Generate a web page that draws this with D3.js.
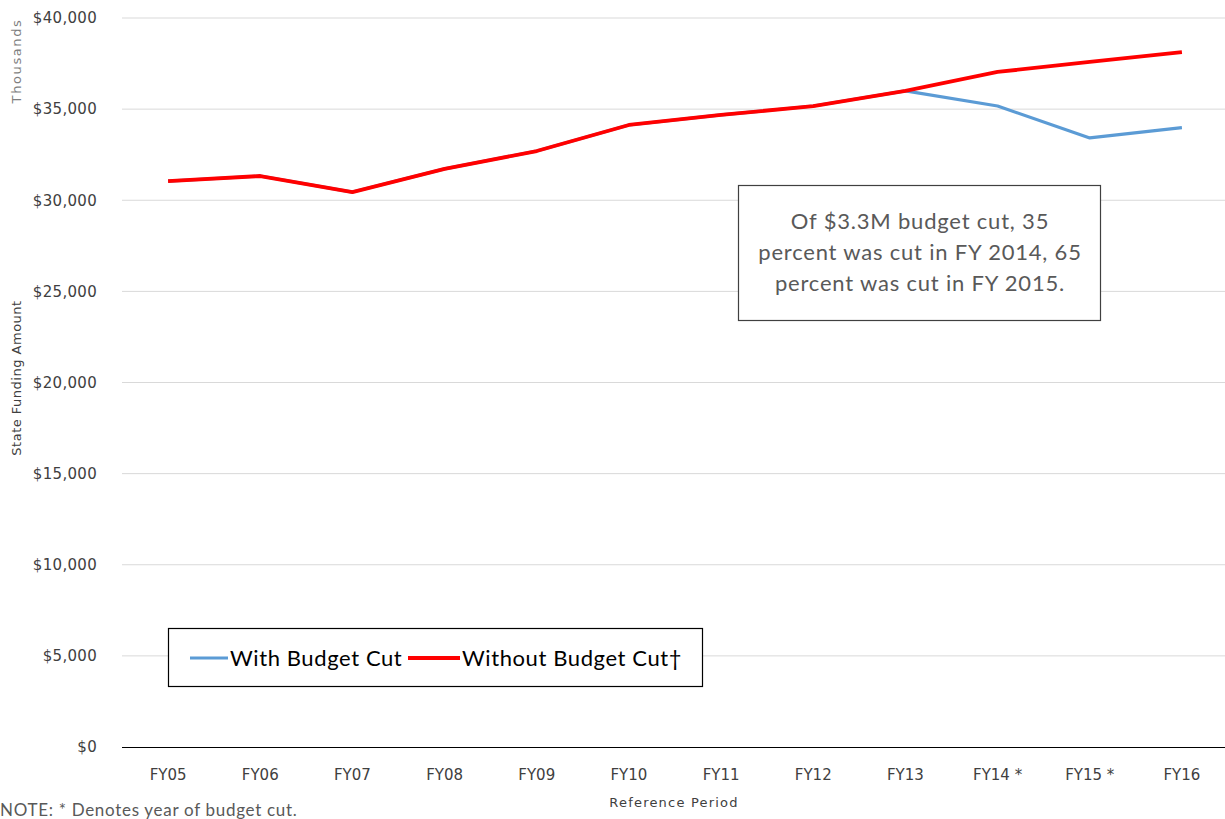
<!DOCTYPE html>
<html>
<head>
<meta charset="utf-8">
<script src="https://cdn.jsdelivr.net/npm/d3@7"></script>
<style>
  html, body { margin: 0; padding: 0; background: #fff; }
  svg { display: block; }
</style>
</head>
<body>
<svg id="chart" width="1225" height="819"></svg>
<script>
// Fiscal years on the x axis
const years = ["FY05", "FY06", "FY07", "FY08", "FY09", "FY10", "FY11", "FY12", "FY13", "FY14 *", "FY15 *", "FY16"];
// State funding, in thousands of dollars
const withoutCut = [31050, 31330, 30450, 31720, 32700, 34130, 34680, 35170, 36000, 37040, 37590, 38130];
const withCut    = [31050, 31330, 30450, 31720, 32700, 34130, 34680, 35170, 36000, 35170, 33420, 33980];
const yTicks = [0, 5000, 10000, 15000, 20000, 25000, 30000, 35000, 40000];
const seriesNames = ["With Budget Cut", "Without Budget Cut\u2020"];
const noteLines = ["Of $3.3M budget cut, 35", "percent was cut in FY 2014, 65", "percent was cut in FY 2015."];

(function () {
const svg = d3.select("#chart");
const plotLeft = 122, plotRight = 1228, plotTop = 18, plotBottom = 747;
const axisFont = "DejaVu Sans, sans-serif";
const textFont = "Lato, sans-serif";

const x = d3.scaleBand().domain(years).range([plotLeft, plotRight]);
const y = d3.scaleLinear().domain([0, 40000]).range([plotBottom, plotTop]);
const fmt = v => "$" + d3.format(",")(v);

// Horizontal gridlines
svg.append("g")
  .selectAll("line")
  .data(yTicks.filter(t => t > 0))
  .join("line")
  .attr("x1", plotLeft).attr("x2", 1225)
  .attr("y1", d => y(d)).attr("y2", d => y(d))
  .attr("stroke", "#d9d9d9").attr("stroke-width", 1);

// Y axis labels
const yAxis = svg.append("g")
  .attr("transform", `translate(${plotLeft},0)`)
  .call(d3.axisLeft(y).tickValues(yTicks).tickFormat(fmt).tickSize(0).tickPadding(25));
yAxis.select(".domain").remove();
yAxis.selectAll("text")
  .attr("font-family", axisFont)
  .attr("font-size", 15)
  .attr("letter-spacing", 0.3)
  .attr("fill", "#404040");

// X axis with baseline
const xAxis = svg.append("g")
  .attr("transform", `translate(0,${plotBottom})`)
  .call(d3.axisBottom(x).tickSize(0).tickPadding(22));
xAxis.select(".domain").attr("d", `M${plotLeft},0.5H1225`).attr("stroke", "#000").attr("stroke-width", 1);
xAxis.selectAll("text")
  .attr("font-family", axisFont)
  .attr("font-size", 15)
  .attr("fill", "#404040");

// Axis titles
svg.append("text")
  .attr("transform", "translate(21,378) rotate(-90)")
  .attr("text-anchor", "middle")
  .attr("font-family", axisFont)
  .attr("font-size", 13)
  .attr("letter-spacing", 0.5)
  .attr("fill", "#404040")
  .text("State Funding Amount");
svg.append("text")
  .attr("transform", "translate(21,61) rotate(-90)")
  .attr("text-anchor", "middle")
  .attr("font-family", axisFont)
  .attr("font-size", 13)
  .attr("letter-spacing", 1.6)
  .attr("fill", "#7f7f7f")
  .text("Thousands");
svg.append("text")
  .attr("x", 674).attr("y", 807)
  .attr("text-anchor", "middle")
  .attr("font-family", axisFont)
  .attr("font-size", 13)
  .attr("letter-spacing", 1.2)
  .attr("fill", "#404040")
  .text("Reference Period");

// Lines
const line = d3.line()
  .x((d, i) => x(years[i]) + x.bandwidth() / 2)
  .y(d => y(d));

svg.append("path")
  .datum(withCut)
  .attr("d", line)
  .attr("fill", "none")
  .attr("stroke", "#5b9bd5")
  .attr("stroke-width", 3.2)
  .attr("stroke-linejoin", "round");
svg.append("path")
  .datum(withoutCut)
  .attr("d", line)
  .attr("fill", "none")
  .attr("stroke", "#ff0000")
  .attr("stroke-width", 3.8)
  .attr("stroke-linejoin", "round");

// Annotation box
const note = svg.append("g");
note.append("rect")
  .attr("x", 738.5).attr("y", 185.5).attr("width", 362).attr("height", 135)
  .attr("fill", "#fff").attr("stroke", "#404040").attr("stroke-width", 1.2);
note.selectAll("text")
  .data(noteLines)
  .join("text")
  .attr("x", 920).attr("y", (d, i) => 229 + i * 31)
  .attr("text-anchor", "middle")
  .attr("font-family", textFont)
  .attr("font-size", 22)
  .attr("letter-spacing", 0.8)
  .attr("fill", "#595959")
  .text(d => d);

// Legend
const legend = svg.append("g");
legend.append("rect")
  .attr("x", 168.5).attr("y", 628.5).attr("width", 534).attr("height", 58)
  .attr("fill", "#fff").attr("stroke", "#000").attr("stroke-width", 1.2);
const legendItems = [
  { name: seriesNames[0], color: "#5b9bd5", x0: 190, x1: 228, w: 3.2 },
  { name: seriesNames[1], color: "#ff0000", x0: 408, x1: 460, w: 3.8 }
];
legendItems.forEach(it => {
  legend.append("line")
    .attr("x1", it.x0).attr("x2", it.x1).attr("y1", 658).attr("y2", 658)
    .attr("stroke", it.color).attr("stroke-width", it.w);
  legend.append("text")
    .attr("x", it.x1 + 2).attr("y", 666)
    .attr("font-family", textFont)
    .attr("font-size", 22)
    .attr("letter-spacing", 0.6)
    .attr("fill", "#000")
    .text(it.name);
});

// Footnote
svg.append("text")
  .attr("x", 0).attr("y", 816)
  .attr("font-family", textFont)
  .attr("font-size", 17)
  .attr("letter-spacing", 0.7)
  .attr("fill", "#595959")
  .text("NOTE: * Denotes year of budget cut.");
})();
</script>
</body>
</html>
